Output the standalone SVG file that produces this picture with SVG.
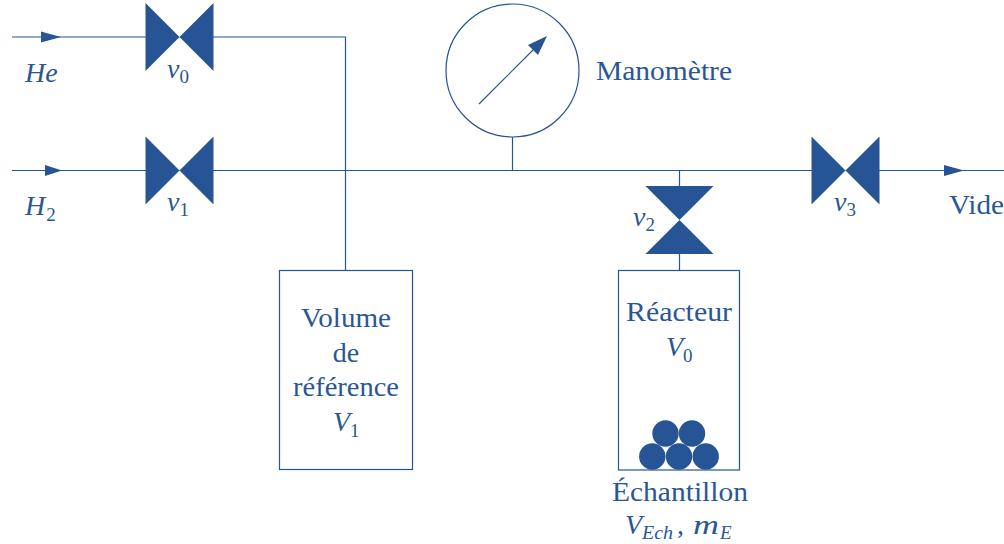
<svg xmlns="http://www.w3.org/2000/svg" width="1004" height="544" viewBox="0 0 1004 544">
<style>
text{font-family:"Liberation Serif","Times New Roman",serif;font-size:28px;fill:#2a5694}
.m{text-anchor:middle}
.i{font-style:italic}
.s{font-size:19px}
.v{fill:#275495;stroke:none}
.l{fill:none;stroke:#275495;stroke-width:1.2}
.a{fill:#275495;stroke:none}
</style>
<rect width="1004" height="544" fill="#fff"/>
<g id="connectors">
<path class="l" d="M12 37H146M213 37H345.500V270"/>
<path class="l" d="M12 170.500H146M213 170.500H812M879 170.500H1004"/>
<path class="l" d="M512.500 137V170.500M679.500 170.500V187M679.500 254V270"/>
<path class="l" d="M479 104L540 43"/>
<path class="a" d="M41 31.500L61 37L41 42.500Z"/>
<path class="a" d="M45 165L62 170.500L45 176Z"/>
<path class="a" d="M944 165L964 170.500L944 176Z"/>
<path class="a" d="M547 36L538 55L528 45Z"/>
</g>
<g id="he"><text x="25" y="82" class="i">He</text></g>
<g id="h2"><text x="25" y="215" class="i">H<tspan class="s" dy="6" dx="1" font-style="normal">2</tspan></text></g>
<g id="v0"><path class="v" d="M145.500 3L213.500 71V3L145.500 71Z"/><text x="167" y="78" class="i">v<tspan class="s" dy="5" font-style="normal">0</tspan></text></g>
<g id="v1"><path class="v" d="M145.500 136.500L213.500 204.500V136.500L145.500 204.500Z"/><text x="167" y="211" class="i">v<tspan class="s" dy="5" font-style="normal">1</tspan></text></g>
<g id="v2"><path class="v" d="M645.500 186H713.500L645.500 254H713.500Z"/><text x="633" y="226" class="i">v<tspan class="s" dy="5" font-style="normal">2</tspan></text></g>
<g id="v3"><path class="v" d="M811.500 136.500L879.500 204.500V136.500L811.500 204.500Z"/><text x="834" y="211" class="i">v<tspan class="s" dy="5" font-style="normal">3</tspan></text></g>
<g id="manometre"><circle class="l" cx="512.500" cy="70.500" r="66.500"/><text x="596" y="80" textLength="136" lengthAdjust="spacingAndGlyphs">Manomètre</text></g>
<g id="vide"><text x="949" y="214" textLength="55" lengthAdjust="spacingAndGlyphs">Vide</text></g>
<g id="volume"><rect class="l" x="279.500" y="270.500" width="133" height="199"/>
<text x="301" y="327" textLength="90" lengthAdjust="spacingAndGlyphs">Volume</text><text x="346" y="362" class="m">de</text><text x="293" y="396" textLength="106" lengthAdjust="spacingAndGlyphs">référence</text><text x="333" y="431" class="i">V<tspan class="s" dy="6" font-style="normal">1</tspan></text></g>
<g id="reacteur"><rect class="l" x="618.500" y="270.500" width="121" height="199.500"/>
<text x="626" y="321" textLength="106" lengthAdjust="spacingAndGlyphs">Réacteur</text><text x="666" y="356" class="i">V<tspan class="s" dy="6" font-style="normal">0</tspan></text></g>
<g id="echantillon" class="v">
<circle cx="665.500" cy="433.500" r="13.200"/><circle cx="692" cy="433.500" r="13.200"/>
<circle cx="652.300" cy="456.500" r="13.200"/><circle cx="679" cy="456.500" r="13.200"/><circle cx="705.700" cy="456.500" r="13.200"/>
<text x="612" y="501" textLength="136" lengthAdjust="spacingAndGlyphs">Échantillon</text>
<text x="625" y="534" class="i">V<tspan class="s" x="642" dy="5" textLength="31" lengthAdjust="spacingAndGlyphs">Ech</tspan><tspan x="677" dy="-5" font-style="normal">,</tspan></text>
<text x="693" y="534" class="i" textLength="26" lengthAdjust="spacingAndGlyphs">m</text>
<text x="720" y="539" class="i s">E</text>
</g>
</svg>
